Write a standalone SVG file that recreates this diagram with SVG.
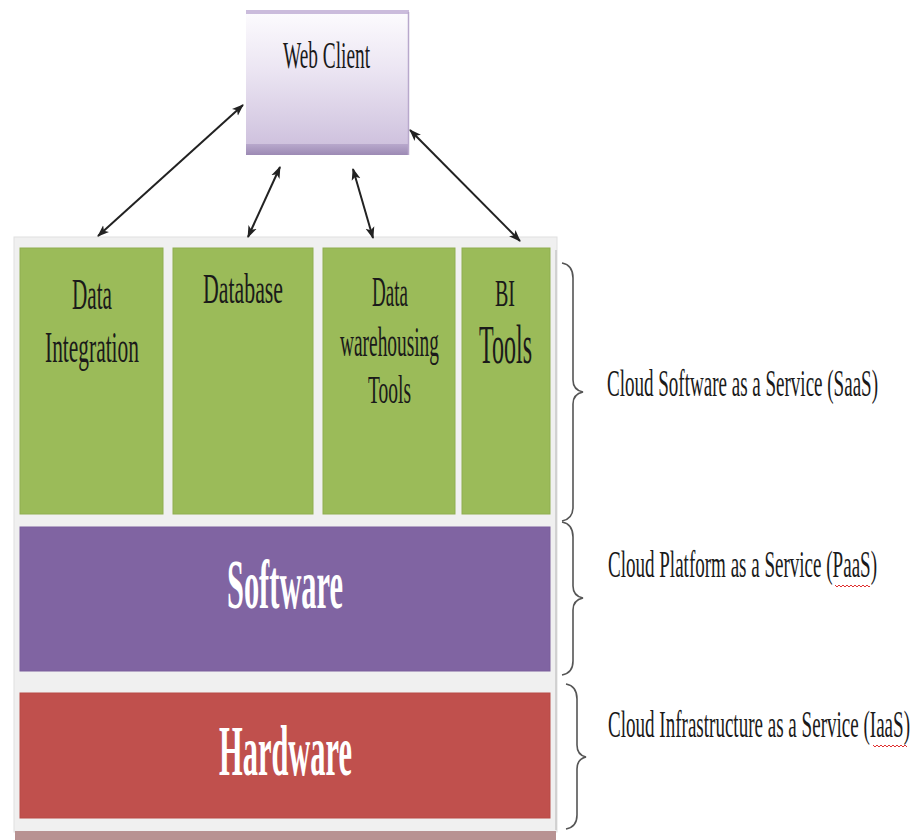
<svg xmlns="http://www.w3.org/2000/svg" width="916" height="840" viewBox="0 0 916 840">
<defs>
<linearGradient id="wc" x1="0" y1="0" x2="0" y2="1">
<stop offset="0" stop-color="#fdfcfe"/>
<stop offset="0.4" stop-color="#ece6f3"/>
<stop offset="1" stop-color="#cbbddb"/>
</linearGradient>
<linearGradient id="wcb" x1="0" y1="0" x2="0" y2="1">
<stop offset="0" stop-color="#b8a8cc"/>
<stop offset="1" stop-color="#9c8ab4"/>
</linearGradient>
<marker id="ah" viewBox="0 0 12 10" refX="11" refY="5" markerWidth="12" markerHeight="10" markerUnits="userSpaceOnUse" orient="auto-start-reverse">
<path d="M0,0.5 L12,5 L0,9.5 L3,5 Z" fill="#222"/>
</marker>
<style>
.t{font-family:"Liberation Serif","Times New Roman",serif;fill:#1a1a1a;text-anchor:middle}
.lbl{font-family:"Liberation Serif","Times New Roman",serif;fill:#1a1a1a;font-size:38px}
.big{font-family:"Liberation Serif","Times New Roman",serif;fill:#ffffff;font-weight:bold;text-anchor:middle}
.arr{stroke:#222;stroke-width:2;fill:none;marker-start:url(#ah);marker-end:url(#ah)}
.brace{stroke:#555;stroke-width:1.6;fill:none}
.green{fill:#9bbb59;stroke:#8fae50;stroke-width:1}
.sq{stroke:#e03030;stroke-width:1;fill:none}
</style>
</defs>
<rect width="916" height="840" fill="#ffffff"/>

<g id="panel">
<rect x="14" y="237" width="543" height="595" fill="#f0f0f0" stroke="#e0e0e0" stroke-width="1"/>
<line x1="556" y1="250" x2="556" y2="830" stroke="#c8c8c8" stroke-width="1.5"/>
<rect x="15" y="831" width="541" height="9" fill="#b89292"/>
</g>

<g id="web-client">
<rect x="246" y="10" width="163" height="145" fill="url(#wc)"/>
<rect x="246" y="10" width="163" height="4" fill="#cbbcdc"/>
<rect x="246" y="144" width="163" height="11" fill="url(#wcb)"/>
<line x1="408.5" y1="12" x2="408.5" y2="155" stroke="#b8a8cc" stroke-width="1.5"/>
<text class="t" transform="translate(326.5,68) scale(0.5,1)" font-size="38" textLength="174" lengthAdjust="spacingAndGlyphs">Web Client</text>
</g>

<g id="data-integration">
<rect class="green" x="20" y="248" width="143" height="266"/>
<text class="t" transform="translate(92,309) scale(0.5,1)" font-size="44" textLength="80" lengthAdjust="spacingAndGlyphs">Data</text>
<text class="t" transform="translate(92,362) scale(0.5,1)" font-size="44" textLength="188" lengthAdjust="spacingAndGlyphs">Integration</text>
</g>

<g id="database">
<rect class="green" x="173" y="248" width="140" height="266"/>
<text class="t" transform="translate(243,303) scale(0.5,1)" font-size="42" textLength="160" lengthAdjust="spacingAndGlyphs">Database</text>
</g>

<g id="data-warehousing">
<rect class="green" x="323" y="248" width="132" height="266"/>
<text class="t" transform="translate(390,306) scale(0.5,1)" font-size="42" textLength="72" lengthAdjust="spacingAndGlyphs">Data</text>
<text class="t" transform="translate(389.5,356) scale(0.5,1)" font-size="42" textLength="198" lengthAdjust="spacingAndGlyphs">warehousing</text>
<text class="t" transform="translate(389.5,403) scale(0.5,1)" font-size="40" textLength="86" lengthAdjust="spacingAndGlyphs">Tools</text>
</g>

<g id="bi-tools">
<rect class="green" x="462" y="248" width="88" height="266"/>
<text class="t" transform="translate(505,306) scale(0.5,1)" font-size="38" textLength="40" lengthAdjust="spacingAndGlyphs">BI</text>
<text class="t" transform="translate(505.5,363) scale(0.5,1)" font-size="54" textLength="106" lengthAdjust="spacingAndGlyphs">Tools</text>
</g>

<g id="software">
<rect x="20" y="527" width="530" height="144" fill="#8064a2" stroke="#7a5f9c" stroke-width="1"/>
<text class="big" transform="translate(285,608) scale(0.5,1)" font-size="70" textLength="232" lengthAdjust="spacingAndGlyphs">Software</text>
</g>

<g id="hardware">
<rect x="20" y="693" width="530" height="125" fill="#c0504d" stroke="#b84a47" stroke-width="1"/>
<text class="big" transform="translate(285.5,775) scale(0.5,1)" font-size="72" textLength="266" lengthAdjust="spacingAndGlyphs">Hardware</text>
</g>

<g id="connectors">
<line class="arr" x1="243" y1="105" x2="98" y2="236"/>
<line class="arr" x1="280" y1="167" x2="248" y2="237"/>
<line class="arr" x1="353" y1="169" x2="373" y2="238"/>
<line class="arr" x1="410" y1="130" x2="520" y2="241"/>
</g>

<g id="saas">
<path class="brace" d="M562,263 Q573,265 573,278 L573,380 Q573,390 583,392 Q573,394 573,404 L573,507 Q573,519 562,521"/>
<text class="lbl" transform="translate(607,396) scale(0.5,1)" textLength="542" lengthAdjust="spacingAndGlyphs">Cloud Software as a Service (SaaS)</text>
</g>

<g id="paas">
<path class="brace" d="M562,522 Q573,524 573,537 L573,586 Q573,596 583,598 Q573,600 573,610 L573,661 Q573,673 562,675"/>
<text class="lbl" transform="translate(608,577) scale(0.5,1)" textLength="538" lengthAdjust="spacingAndGlyphs">Cloud Platform as a Service (PaaS)</text>
<path class="sq" d="M835,585 l2,2 l2,-2 l2,2 l2,-2 l2,2 l2,-2 l2,2 l2,-2 l2,2 l2,-2 l2,2 l2,-2 l2,2 l2,-2 l2,2 l2,-2 l2,2 l1,-1"/>
</g>

<g id="iaas">
<path class="brace" d="M566,684 Q577,686 577,699 L577,745 Q577,755 586,757 Q577,759 577,769 L577,815 Q577,827 566,829"/>
<text class="lbl" transform="translate(608,737) scale(0.5,1)" textLength="604" lengthAdjust="spacingAndGlyphs">Cloud Infrastructure as a Service (IaaS)</text>
<path class="sq" d="M873,745 l2,2 l2,-2 l2,2 l2,-2 l2,2 l2,-2 l2,2 l2,-2 l2,2 l2,-2 l2,2 l2,-2 l2,2 l2,-2 l2,2 l2,-2 l2,2"/>
</g>
</svg>
